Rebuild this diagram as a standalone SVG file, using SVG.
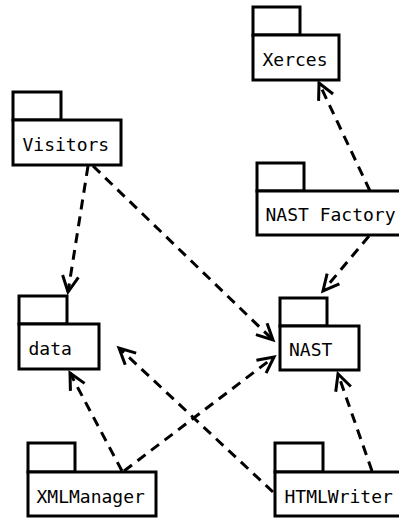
<svg xmlns="http://www.w3.org/2000/svg" width="399" height="518" viewBox="0 0 399 518">
  <defs>
    <style>
      .pkg rect { fill: #fff; stroke: #000; stroke-width: 3; }
      .pkg text { font-family: "DejaVu Sans Mono", "Liberation Mono", monospace; font-size: 18px; fill: #000; }
      .dep { fill: none; stroke: #000; stroke-width: 3; stroke-dasharray: 10 7; marker-end: url(#open); }
    </style>
    <marker id="open" markerUnits="userSpaceOnUse" markerWidth="24" markerHeight="24" refX="0" refY="0" viewBox="-20 -12 24 24" orient="auto" overflow="visible">
      <path d="M -16,-8 L 0,0 L -16,8" fill="none" stroke="#000" stroke-width="3" stroke-dasharray="none"/>
    </marker>
  </defs>
  <rect width="399" height="518" fill="#fff"/>

  <g id="connectors">
    <path class="dep" d="M 88,166 L 68,292"/>
    <path class="dep" d="M 93,166 L 273,340"/>
    <path class="dep" d="M 370,191 L 319,83"/>
    <path class="dep" d="M 369,236 L 323,291"/>
    <path class="dep" d="M 122,471 L 70,373"/>
    <path class="dep" d="M 124,471 L 274,357"/>
    <path class="dep" d="M 273,492 L 119,348"/>
    <path class="dep" d="M 372,471 L 338,374"/>
  </g>

  <g id="xerces" class="pkg">
    <rect x="253" y="7" width="47" height="28"/>
    <rect x="253" y="35" width="86" height="45"/>
    <text x="262.5" y="65.5">Xerces</text>
  </g>

  <g id="visitors" class="pkg">
    <rect x="13" y="92" width="48" height="28"/>
    <rect x="13" y="120" width="108" height="45"/>
    <text x="22.5" y="150.5">Visitors</text>
  </g>

  <g id="nast-factory" class="pkg">
    <rect x="257" y="163" width="47" height="28"/>
    <rect x="257" y="191" width="155" height="44"/>
    <text x="265.5" y="221">NAST Factory</text>
  </g>

  <g id="data" class="pkg">
    <rect x="19" y="296" width="48" height="28"/>
    <rect x="19" y="324" width="80" height="45"/>
    <text x="28.5" y="355">data</text>
  </g>

  <g id="nast" class="pkg">
    <rect x="280" y="298" width="47" height="28"/>
    <rect x="280" y="326" width="79" height="44"/>
    <text x="289" y="356">NAST</text>
  </g>

  <g id="xmlmanager" class="pkg">
    <rect x="28" y="443" width="47" height="29"/>
    <rect x="28" y="472" width="128" height="44"/>
    <text x="36.5" y="503">XMLManager</text>
  </g>

  <g id="htmlwriter" class="pkg">
    <rect x="275" y="443" width="48" height="29"/>
    <rect x="275" y="472" width="137" height="44"/>
    <text x="284.5" y="503">HTMLWriter</text>
  </g>
</svg>
